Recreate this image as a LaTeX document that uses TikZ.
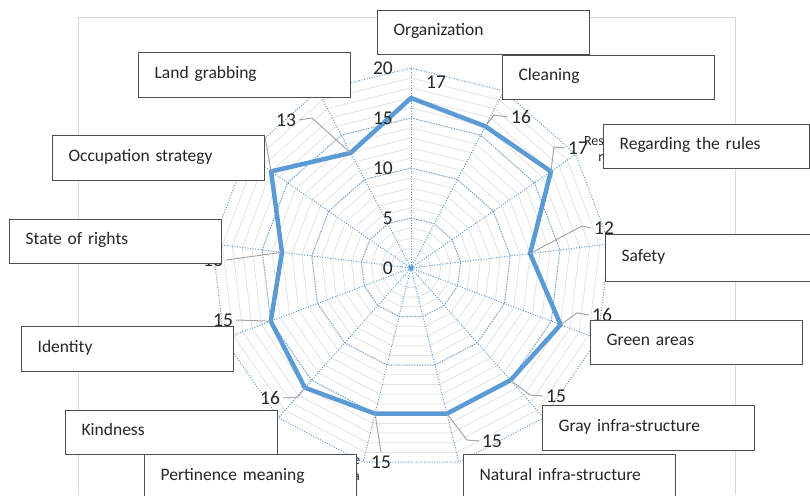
\documentclass[tikz,border=0pt]{standalone}
\usepackage{fontspec}
\setmainfont{Carlito}
\usepackage{xcolor}
\usepackage{tikz}

\definecolor{chartblue}{HTML}{5B9BD5}
\definecolor{minorgray}{HTML}{E3E3E3}
\definecolor{leadergray}{HTML}{A6A6A6}
\definecolor{framegray}{HTML}{D9D9D9}
\definecolor{boxline}{HTML}{4D4D4D}
\definecolor{inkgray}{HTML}{262626}

\tikzset{
  minorgrid/.style={draw=minorgray, line width=0.8pt},
  majorgrid/.style={draw=chartblue, line width=1pt, dash pattern=on 1pt off 1.6pt},
  dataline/.style={draw=chartblue, line width=4.5pt, line join=round},
  leader/.style={draw=leadergray, line width=1pt},
  num/.style={font=\fontsize{19.5}{20}\selectfont, text=inkgray, inner sep=3pt},
  axisnum/.style={font=\fontsize{19.5}{20}\selectfont, text=inkgray, inner sep=0pt, anchor=east},
  frag/.style={font=\fontsize{14}{15}\selectfont, text=inkgray, inner sep=0pt},
  lbox/.style={draw=boxline, fill=white, line width=1.2pt, anchor=north west,
    text width=180pt, inner xsep=16pt, inner ysep=0pt, minimum height=44pt,
    text height=12pt, text depth=6pt,
    align=left, font=\fontsize{17.5}{20}\selectfont, text=inkgray}
}

\begin{document}
\begin{tikzpicture}[x=1pt, y=-1pt]
\useasboundingbox (0,0) rectangle (810,495);
\def\cx{411}
\def\cy{268}
\def\ang{27.6923}
% plot area
\draw[framegray, line width=1pt] (78,495) -- (78,18) -- (735,18) -- (735,495);
% rings
\foreach \v in {1,...,19}
  \draw[minorgrid] (\cx,{\cy-10*\v}) \foreach \k in {1,...,12} { -- ({\cx+10*\v*sin(\k*\ang)},{\cy-10*\v*cos(\k*\ang)}) } -- cycle;
\foreach \v in {5,10,15,20}
  \draw[majorgrid] (\cx,{\cy-10*\v}) \foreach \k in {1,...,12} { -- ({\cx+10*\v*sin(\k*\ang)},{\cy-10*\v*cos(\k*\ang)}) } -- cycle;
\coordinate (ctr) at (\cx,\cy);
\foreach \k in {0,...,12}
  \draw[majorgrid] (ctr) -- ({\cx+200*sin(\k*\ang)},{\cy-200*cos(\k*\ang)});
% data
\foreach \val [count=\k from 0] in {17,16,17,12,16,15,15,15,16,15,13,17,13}
  \coordinate (d\k) at ({\cx+10*\val*sin(\k*\ang)},{\cy-10*\val*cos(\k*\ang)});
\draw[dataline] (d0) \foreach \k in {1,...,12} { -- (d\k) } -- cycle;
\fill[chartblue] (ctr) circle (2.5pt);
% axis values
\foreach \v in {0,5,...,20}
  \node[axisnum] (t\v) at (393,{\cy-10*\v}) {\v};
% data labels
\node[num] (l0) at (436,82) {17};
\node[num] (l1) at (521,117) {16};
\node[num] (l2) at (578,148) {17};
\node[num] (l3) at (604,228) {12};
\node[num] (l4) at (602,315) {16};
\node[num] (l5) at (556,396) {15};
\node[num] (l6) at (492,441) {15};
\node[num] (l7) at (381,462) {15};
\node[num] (l8) at (270,398) {16};
\node[num] (l9) at (223,320) {15};
\node[num] (l10) at (213,260) {13};
\node[num] (l12) at (286,120) {13};
\coordinate (occ) at (265,137);
\draw[leader] (d1) -- (494,115) -- (l1.west);
\draw[leader] (d2) -- (554,147) -- (l2.west);
\draw[leader] (d3) -- (582,226) -- (l3.west);
\draw[leader] (d4) -- (577,313) -- (l4.west);
\draw[leader] (d5) -- (530,395) -- (l5.west);
\draw[leader] (d6) -- (467,440) -- (l6.west);
\draw[leader] (d7) -- (l7.north);
\draw[leader] (d8) -- (298,397) -- (l8.east);
\draw[leader] (d9) -- (l9.east);
\draw[leader] (d10) -- (l10.east);
\draw[leader] (d11) -- (occ);
\draw[leader] (d12) -- (312,118) -- (l12.east);
% category fragments
\node[frag, anchor=east] (fres) at (604,141) {Res};
\node[frag, anchor=east] (fr) at (603.5,158) {r};
\node[frag, anchor=west] (fe) at (353,461) {e};
\node[frag, anchor=west] (fa) at (353,477) {a};
% label boxes
\node[lbox] (org) at (377,10) {Organization};
\node[lbox] (clean) at (502,55) {Cleaning};
\node[lbox, text width=174pt] (rules) at (603,124) {Regarding the rules};
\node[lbox, text width=173pt, minimum height=47pt] (safe) at (605,234) {Safety};
\node[lbox] (green) at (590,320) {Green areas};
\node[lbox, minimum height=45pt] (gray) at (542,405) {Gray infra-structure};
\node[lbox, minimum height=45pt] (natural) at (463,454) {Natural infra-structure};
\node[lbox, minimum height=45pt] (pert) at (144,454) {Pertinence meaning};
\node[lbox] (kind) at (65,410) {Kindness};
\node[lbox, minimum height=45pt] (ident) at (21,326) {Identity};
\node[lbox] (rights) at (9,219) {State of rights};
\node[lbox, minimum height=45pt] (occup) at (52,135) {Occupation strategy};
\node[lbox, minimum height=45pt] (land) at (138,52) {Land grabbing};
\end{tikzpicture}
\end{document}
